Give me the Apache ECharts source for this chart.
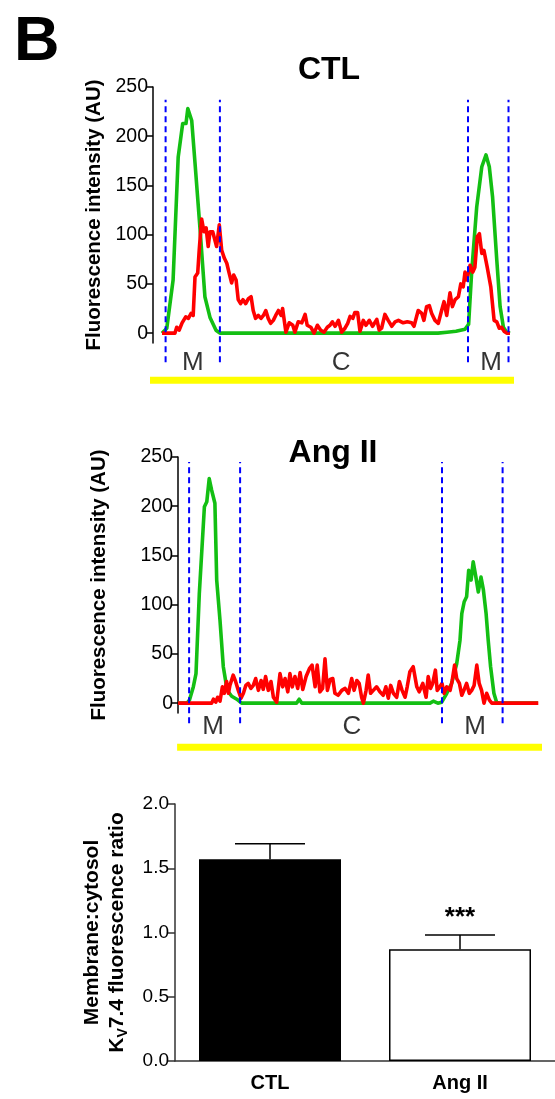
<!DOCTYPE html>
<html><head><meta charset="utf-8">
<script src="https://cdn.jsdelivr.net/npm/echarts@6/dist/echarts.min.js"></script>
<style>html,body{margin:0;padding:0;background:#fff}#c{width:555px;height:1099px}</style>
</head><body><div id="c"></div>
<script>
const FONT = '"Liberation Sans", Arial, sans-serif';

// ---------- Profile data: [position, intensity] ----------
const ctlGreen = [[3,0],[4.6,5],[6.7,54],[8.4,179],[9.9,213],[11,213],[11.6,228],[12.9,216],[14,173],[15.7,105],[17.3,37],[19,16],[21,3],[22.3,0],[95,0],[98,1],[101,2],[104,4],[105.2,9],[106.2,61],[107.9,128],[109.6,169],[111,181],[112.1,169],[113.2,138],[114.6,74],[115.7,27],[116.8,6],[117.9,1],[119,0]];
const ctlRed = [[3,0],[7.3,0],[7.9,6],[8.7,3],[9.7,10.5],[10.9,16.6],[11.8,15],[12.7,20],[13.4,18],[14,57],[14.9,61],[15.4,84],[16.2,116],[17,103],[17.7,107],[18.4,88],[19,103],[19.9,103],[21.2,88],[22.1,110],[22.9,84],[23.8,76],[24.6,71],[25.3,62],[26.2,51],[26.9,59],[27.7,54],[28.4,34],[29.2,30],[30,34],[30.9,30],[31.8,35],[32.7,37],[33.4,23],[34.2,15],[35.1,18],[36,15],[36.8,18],[37.6,23],[38.4,15],[39.2,10],[40.1,13],[40.9,18],[41.8,23],[42.7,18],[43.2,25],[44.3,1],[45.4,10.5],[46.6,8],[47.3,1],[48.4,11.5],[49.6,10.5],[50.7,19],[51.4,8],[52.6,6],[53.7,0],[54.8,8],[55.9,3],[57,1],[58.1,6],[59,8],[59.8,11.5],[60.7,7],[61.8,13],[62.9,1],[64,5],[64.9,10],[65.7,17],[66.6,15],[67.3,21],[68.2,21],[69,2],[70.1,13],[71,8],[72.1,13],[73.2,7],[74.6,14],[75.4,3],[76.2,5],[77.3,19],[78.4,13],[79.6,7],[80.7,11.5],[81.8,13],[83.4,10.5],[84.8,11.5],[86.2,10.5],[87,7],[88.4,23],[89.6,20],[90.3,13],[91.2,27],[92.1,28],[92.9,20],[94,13],[95.1,10],[96.2,23],[97,32],[97.9,18],[99,41],[99.8,27],[100.7,34],[101.8,37],[102.6,50],[103.4,47],[104,62],[104.6,54],[105.7,69],[106.6,62],[107.3,67],[108.1,98],[108.8,101],[109.6,81],[110.3,84],[111.4,67],[112.6,47],[113.7,13],[114.6,11.5],[115.4,5],[116.2,6],[117,2],[117.9,0],[119,0]];
const angGreen = [[0,0],[3,0],[3.8,3],[5.1,16.5],[6,30],[7.1,111],[8.8,199.5],[9.6,204.6],[10.4,228],[11.2,216.5],[12.3,203],[12.9,125],[14,84],[15.1,37],[16.4,13],[17.9,7],[19.6,4],[21.2,0],[39.5,0],[40.4,4],[41.3,0],[84,0],[85.1,2],[86.6,0],[87.9,1],[89.6,10],[91.2,20],[92.9,40],[94,64],[94.6,91],[95.4,103],[96.2,108],[96.9,135],[97.7,125],[98.4,143.6],[99.3,128],[100.1,113],[101,128],[101.8,115],[102.7,91],[103.4,64],[104.2,37],[105.3,10],[106.2,1],[107.3,0],[120,0]];
const angRed = [[0,0],[11.2,0],[11.8,4],[12.6,1],[13.2,6],[14,2],[14.8,16.6],[15.4,10],[16.2,22],[16.8,10],[17.3,18],[18.4,28.5],[19.2,22],[20.1,13],[21,5],[21.8,10],[22.6,18],[23.4,20],[24.3,15],[25.1,18],[25.9,25],[26.8,13],[27.7,23],[28.4,14],[29.2,27],[30.1,13],[31,22],[31.8,6],[32.9,1],[34,30],[34.9,16.6],[35.7,25],[36.6,11.5],[37.3,30],[38.1,16.6],[39,27],[39.9,15],[40.7,31],[41.6,14],[42.7,27],[43.8,35],[44.7,38.6],[45.7,16.6],[46.4,38.6],[47.3,11.5],[48.2,15],[49,45],[49.8,13],[50.7,24],[51.6,25],[52.3,10],[53.4,8],[54.6,13],[55.7,15],[56.8,10],[57.9,25],[58.7,13],[59.6,23],[60.4,20],[61.2,6],[61.8,0],[62.7,13],[63.4,28.5],[64.2,10],[65.1,13],[66.2,16.6],[67.3,11.5],[68.4,8],[69.3,16.6],[70.1,5],[70.9,18],[71.8,10],[72.9,6],[73.8,22],[74.7,13],[75.7,6],[76.4,16.6],[77.3,32],[78.4,37],[79.6,16.6],[80.4,11.5],[81.6,20],[82.7,6],[83.4,27],[84.2,15],[84.9,20],[85.8,33.5],[86.4,13],[87.3,16.6],[88,20],[88.7,10],[89.6,16.6],[90.7,13],[91.4,23],[92.2,38.6],[92.9,25],[93.8,20],[94.6,8],[95.3,13],[96.2,20],[97.1,10],[97.9,13],[98.7,18],[99.6,38.6],[100.4,20],[101.2,13],[102,0],[102.9,10],[103.8,3],[104.6,0],[120.1,0]];

// region boundaries (dashed lines), region labels and extent of the cell bar
const ctlBounds = [4.2, 22.3, 105, 118.5];
const angBounds = [3.7, 20.7, 88, 108.2];
const regionNames = ['M', 'C', 'M'];
const ctlRegionPos = [13.3, 62.7, 112.7];
const angRegionPos = [11.7, 58, 99];
const ctlCellSpan = [-1, 121.7];
const angCellSpan = [-0.3, 122.3];
const yTicks = [0, 50, 100, 150, 200, 250];

// ---------- Bar data ----------
const barCats = ['CTL', 'Ang II'];
const barMeans = [1.57, 0.87];
const barSems = [0.12, 0.11];
const barSig = ['', '***'];

const GREEN = '#13bf13', RED = '#ff0000', BLUE = '#0000ff', YELLOW = '#ffff00';

function profileY(gi, gap) {
  return {
    type: 'value', gridIndex: gi, min: -10, max: 250,
    name: 'Fluorescence intensity (AU)', nameLocation: 'middle', nameGap: gap, nameRotate: 90,
    nameTextStyle: {fontFamily: FONT, fontWeight: 'bold', fontSize: 20.5, color: '#000'},
    axisLine: {show: true, onZero: false, lineStyle: {color: '#000', width: 1.5}},
    axisTick: {show: true, length: 6, customValues: yTicks, lineStyle: {color: '#000', width: 1.5}},
    axisLabel: {customValues: yTicks, fontFamily: FONT, fontSize: 19.5, color: '#000', margin: 5},
    splitLine: {show: false}
  };
}
function profileX(gi, max) {
  return {type: 'value', gridIndex: gi, min: 0, max: max, show: false};
}
function profileSeries(idx, green, red, bounds, regionPos, span, labelY, dashTop, dashBot, cellY) {
  const s = [];
  s.push({type: 'line', xAxisIndex: idx, yAxisIndex: idx, data: [[span[0], cellY], [span[1], cellY]],
    symbol: 'none', clip: false, silent: true, lineStyle: {color: YELLOW, width: 7, cap: 'butt'}});
  s.push({type: 'line', xAxisIndex: idx, yAxisIndex: idx, data: green, symbol: 'none', clip: false,
    lineStyle: {color: GREEN, width: 3.6, join: 'round'}});
  s.push({type: 'line', xAxisIndex: idx, yAxisIndex: idx, data: red, symbol: 'none', clip: false,
    lineStyle: {color: RED, width: 3.6, join: 'round'}});
  bounds.forEach(b => {
    s.push({type: 'line', xAxisIndex: idx, yAxisIndex: idx, data: [[b, dashBot], [b, dashTop]],
      symbol: 'none', clip: false, silent: true, lineStyle: {color: BLUE, width: 2, type: [6, 4]}});
  });
  s.push({type: 'scatter', xAxisIndex: idx, yAxisIndex: idx, clip: false, silent: true,
    symbol: 'circle', symbolSize: 1, itemStyle: {color: 'rgba(0,0,0,0)'},
    data: regionPos.map((p, i) => ({value: [p, labelY], name: regionNames[i]})),
    label: {show: true, position: 'inside', formatter: '{b}', fontFamily: FONT, fontSize: 26, color: '#000'}});
  return s;
}

const chart = echarts.init(document.getElementById('c'), null, {renderer: 'canvas'});
const option = {
  backgroundColor: '#fff',
  animation: false,
  title: [
    {text: 'B', left: 9, top: 6, textStyle: {fontFamily: FONT, fontSize: 63, fontWeight: 'bold', color: '#000'}},
    {text: 'CTL', left: 324, top: 49, textAlign: 'center', textStyle: {fontFamily: FONT, fontSize: 32, fontWeight: 'bold', color: '#000'}},
    {text: 'Ang II', left: 328, top: 432, textAlign: 'center', textStyle: {fontFamily: FONT, fontSize: 32, fontWeight: 'bold', color: '#000'}}
  ],
  grid: [
    {left: 153, top: 87, width: 357, height: 256, outerBoundsMode: 'none', containLabel: false},
    {left: 178, top: 457, width: 360, height: 256, outerBoundsMode: 'none', containLabel: false},
    {left: 175, top: 804, width: 380, height: 257, outerBoundsMode: 'none', containLabel: false}
  ],
  xAxis: [
    profileX(0, 119),
    profileX(1, 120),
    {type: 'category', gridIndex: 2, data: barCats,
      axisLine: {show: true, lineStyle: {color: '#333', width: 1.5}},
      axisTick: {show: false},
      axisLabel: {fontFamily: FONT, fontWeight: 'bold', fontSize: 20, color: '#000', margin: 12}}
  ],
  yAxis: [
    profileY(0, 43),
    profileY(1, 68),
    {type: 'value', gridIndex: 2, min: 0, max: 2, interval: 0.5,
      name: 'Membrane:cytosol\nK{sub|V}7.4 fluorescence ratio', nameLocation: 'middle', nameGap: 45, nameRotate: 90,
      nameTextStyle: {fontFamily: FONT, fontWeight: 'bold', fontSize: 21, lineHeight: 25, color: '#000', align: 'center',
        rich: {sub: {fontFamily: FONT, fontWeight: 'bold', fontSize: 14, lineHeight: 14, verticalAlign: 'bottom', color: '#000'}}},
      axisLine: {show: true, lineStyle: {color: '#333', width: 1.5}},
      axisTick: {show: true, length: 7, lineStyle: {color: '#333', width: 1.5}},
      axisLabel: {fontFamily: FONT, fontSize: 19, color: '#000', margin: 6, formatter: v => v.toFixed(1)},
      splitLine: {show: false}}
  ],
  series: [
    ...profileSeries(0, ctlGreen, ctlRed, ctlBounds, ctlRegionPos, ctlCellSpan, -30, 237, -29.5, -47.8),
    ...profileSeries(1, angGreen, angRed, angBounds, angRegionPos, angCellSpan, -24.4, 245, -20.3, -44.7),
    {type: 'bar', xAxisIndex: 2, yAxisIndex: 2, barWidth: 142,
      data: barMeans.map((m, i) => ({value: m, itemStyle: {color: i === 0 ? '#000' : '#fff', borderColor: '#000', borderWidth: 1.5}}))},
    {type: 'custom', xAxisIndex: 2, yAxisIndex: 2,
      data: barMeans.map((m, i) => [i, m, barSems[i]]),
      renderItem: function (params, api) {
        const i = api.value(0), m = api.value(1), s = api.value(2);
        const base = api.coord([i, m]);
        const top = api.coord([i, m + s]);
        const hw = 35;
        const children = [
          {type: 'line', shape: {x1: base[0], y1: base[1], x2: top[0], y2: top[1]}, style: {stroke: '#000', lineWidth: 1.5}},
          {type: 'line', shape: {x1: top[0] - hw, y1: top[1], x2: top[0] + hw, y2: top[1]}, style: {stroke: '#000', lineWidth: 1.5}}
        ];
        const sig = barSig[params.dataIndex];
        if (sig) children.push({type: 'text', style: {text: sig, x: top[0], y: top[1] - 17, align: 'center', verticalAlign: 'middle',
          fontFamily: FONT, fontWeight: 'bold', fontSize: 26, fill: '#000'}});
        return {type: 'group', children: children};
      }}
  ]
};
chart.setOption(option);
</script></body></html>
